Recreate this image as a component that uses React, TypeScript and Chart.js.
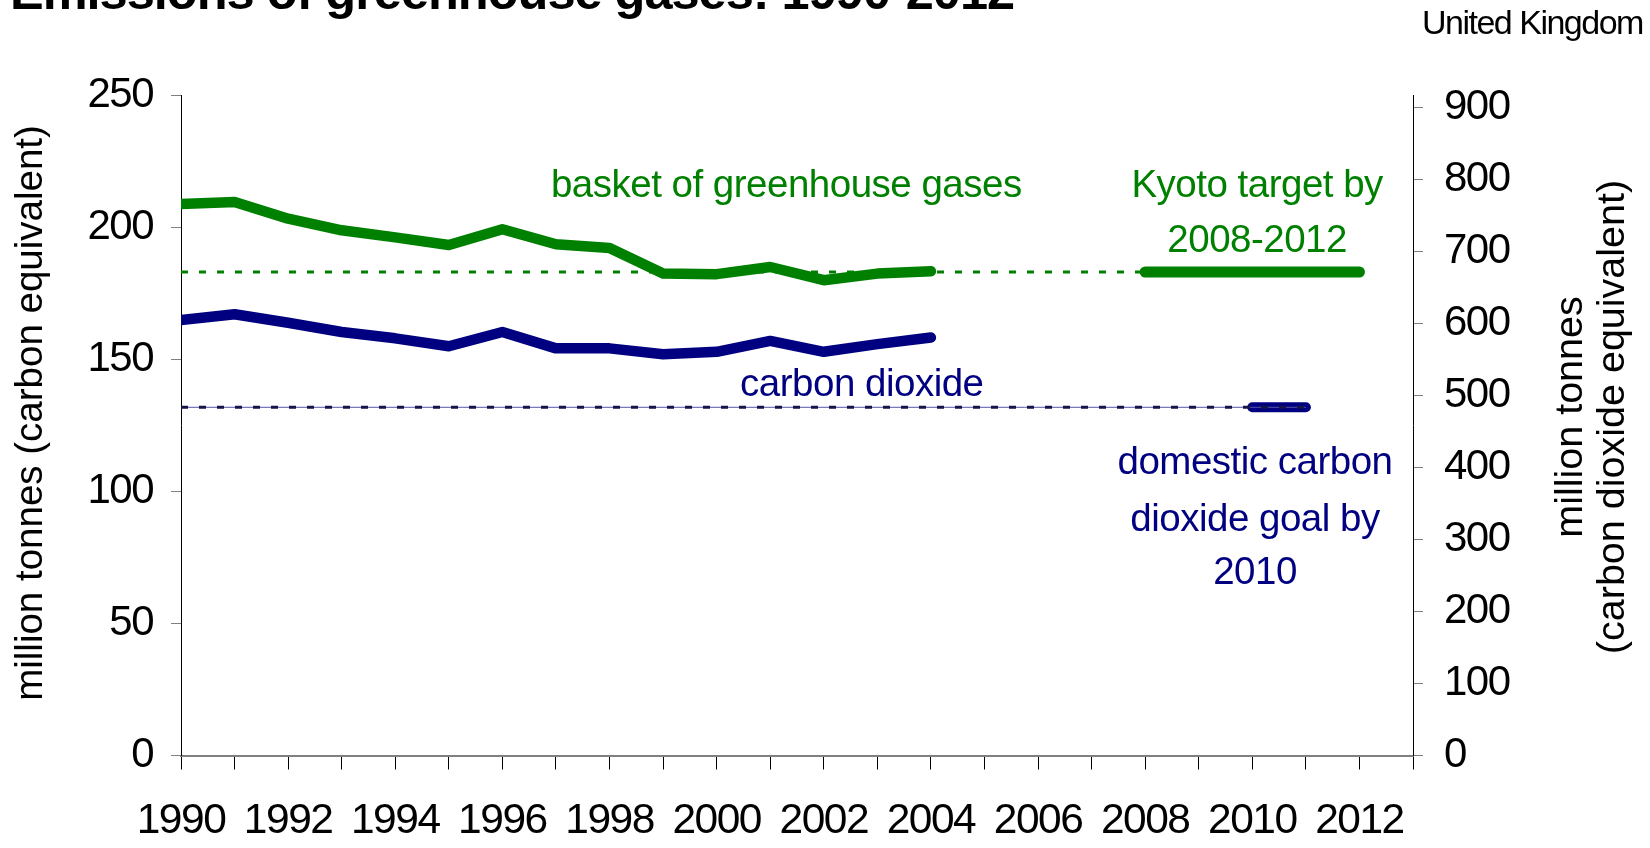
import React, { useEffect, useRef } from "react";
import { Chart, registerables } from "chart.js";

Chart.register(...registerables);

// ---- data ----
const years = [1990, 1991, 1992, 1993, 1994, 1995, 1996, 1997, 1998, 1999, 2000, 2001, 2002, 2003, 2004];
const basketOfGases = [208.7, 209.5, 203.2, 198.8, 196.1, 193.2, 199.2, 193.5, 192.1, 182.4, 182.2, 184.9, 179.9, 182.4, 183.3];
const carbonDioxide = [164.8, 167.0, 163.8, 160.3, 157.9, 154.9, 160.3, 154.1, 154.1, 151.9, 152.8, 156.9, 152.8, 155.7, 158.2];
const baseYear = 1990;
const kyotoTarget = 183;
const kyotoPeriod = [2008, 2012];
const co2Goal = 131.8;
const co2GoalPeriod = [2010, 2011];
const xAxisYears = [1990, 1991, 1992, 1993, 1994, 1995, 1996, 1997, 1998, 1999, 2000, 2001, 2002, 2003, 2004, 2005, 2006, 2007, 2008, 2009, 2010, 2011, 2012, 2013];
const xTickLabels = ["1990", "1992", "1994", "1996", "1998", "2000", "2002", "2004", "2006", "2008", "2010", "2012"];
const leftTicks = [0, 50, 100, 150, 200, 250];
const rightTicks = [0, 100, 200, 300, 400, 500, 600, 700, 800, 900];
const co2PerCarbon = 44 / 12;

const GREEN = "#008000";
const NAVY = "#000080";
const FONT = "'Liberation Sans', Arial, sans-serif";

const annotations = [
  { text: "basket of greenhouse gases", x: 2001.3, y: 211.4, color: GREEN },
  { text: "Kyoto target by", x: 2010.09, y: 211.4, color: GREEN },
  { text: "2008-2012", x: 2010.09, y: 190.5, color: GREEN },
  { text: "carbon dioxide", x: 2002.71, y: 136.0, color: NAVY },
  { text: "domestic carbon", x: 2010.05, y: 106.7, color: NAVY },
  { text: "dioxide goal by", x: 2010.05, y: 84.9, color: NAVY },
  { text: "2010", x: 2010.05, y: 64.9, color: NAVY },
];

const titleText = "Emissions of greenhouse gases: 1990-2012";
const countryText = "United Kingdom";
const leftAxisTitle = "million tonnes (carbon equivalent)";
const rightAxisTitle = ["million tonnes", "(carbon dioxide equivalent)"];

const pts = (xs: number[], ys: number[]) => xs.map((x, i) => ({ x, y: ys[i] }));
const flat = (x0: number, x1: number, y: number) => [{ x: x0, y }, { x: x1, y }];

const annotPlugin = {
  id: "annot",
  beforeDraw(chart: any) {
    chart.ctx.letterSpacing = "-1.5px";
  },
  afterDraw(chart: any) {
    const ctx = chart.ctx;
    const xs = chart.scales.x;
    const ys = chart.scales.y;
    ctx.save();
    // annotations
    ctx.letterSpacing = "-0.5px";
    ctx.font = `38.5px ${FONT}`;
    ctx.textAlign = "center";
    ctx.textBaseline = "alphabetic";
    for (const a of annotations) {
      ctx.fillStyle = a.color;
      ctx.fillText(a.text, xs.getPixelForValue(a.x), ys.getPixelForValue(a.y));
    }
    // title (clipped at top)
    ctx.fillStyle = "#000";
    ctx.textAlign = "left";
    ctx.letterSpacing = "-1px";
    ctx.font = `bold 50.5px ${FONT}`;
    ctx.fillText(titleText, 10, 9);
    ctx.font = `34px ${FONT}`;
    ctx.letterSpacing = "-1.5px";
    ctx.fillText(countryText, 1422, 34);
    // axis titles
    ctx.letterSpacing = "0px";
    ctx.font = `38.5px ${FONT}`;
    ctx.textAlign = "center";
    ctx.textBaseline = "middle";
    ctx.save();
    ctx.translate(31, 413);
    ctx.rotate(-Math.PI / 2);
    ctx.fillText(leftAxisTitle, 0, 0);
    ctx.restore();
    ctx.save();
    ctx.translate(1592, 417);
    ctx.rotate(-Math.PI / 2);
    ctx.font = `39.5px ${FONT}`;
    ctx.fillText(rightAxisTitle[0], 0, -21);
    ctx.fillText(rightAxisTitle[1], 0, 21);
    ctx.restore();
    ctx.restore();
  },
};

export default function App() {
  const ref = useRef<HTMLCanvasElement | null>(null);
  useEffect(() => {
    if (!ref.current) return;
    const lineBase = { pointRadius: 0, tension: 0, borderCapStyle: "round", borderJoinStyle: "round", fill: false };
    const chart = new Chart(ref.current, {
      type: "line",
      data: {
        datasets: [
          { ...lineBase, data: pts(years, basketOfGases), borderColor: GREEN, borderWidth: 10.5, order: 1 },
          { ...lineBase, data: pts(years, carbonDioxide), borderColor: NAVY, borderWidth: 10.5, order: 1 },
          { ...lineBase, data: flat(kyotoPeriod[0], kyotoPeriod[1], kyotoTarget), borderColor: GREEN, borderWidth: 11, order: 2 },
          { ...lineBase, data: flat(baseYear, kyotoPeriod[0], kyotoTarget), borderColor: GREEN, borderWidth: 3, borderCapStyle: "butt", borderDash: [7, 11], order: 3 },
          { ...lineBase, data: flat(co2GoalPeriod[0], co2GoalPeriod[1], co2Goal), borderColor: NAVY, borderWidth: 10, order: 4 },
          { ...lineBase, data: flat(baseYear, co2GoalPeriod[1], co2Goal), borderColor: "#5555aa", borderWidth: 1, borderCapStyle: "butt", order: 3 },
          { ...lineBase, data: flat(baseYear, co2GoalPeriod[1], co2Goal), borderColor: "#15154a", borderWidth: 3, borderCapStyle: "butt", borderDash: [7, 11], order: 2 },
        ],
      },
      options: {
        responsive: false,
        animation: false,
        events: [],
        layout: { padding: { top: 95, left: 0, right: 0, bottom: 0 } },
        plugins: { legend: { display: false }, tooltip: { enabled: false }, title: { display: false } },
        scales: {
          x: {
            type: "linear",
            min: xAxisYears[0],
            max: xAxisYears[xAxisYears.length - 1],
            afterBuildTicks: (s: any) => { s.ticks = xAxisYears.map((v) => ({ value: v })); },
            afterFit: (s: any) => { s.height = 92.5; },
            border: { color: "#808080", width: 2 },
            grid: { drawOnChartArea: false, tickLength: 14, color: "#000", tickWidth: 1 },
            ticks: {
              autoSkip: false,
              maxRotation: 0,
              padding: 26,
              color: "#000",
              font: { family: FONT, size: 42.5 },
              callback: (v: any) => (xTickLabels.includes(String(v)) ? String(v) : ""),
            },
          },
          y: {
            position: "left",
            min: 0,
            max: 250,
            afterBuildTicks: (s: any) => { s.ticks = leftTicks.map((v) => ({ value: v })); },
            afterFit: (s: any) => { s.width = 181; },
            border: { color: "#000", width: 1 },
            grid: { drawOnChartArea: false, tickLength: 10, color: "#808080" },
            ticks: { padding: 18, color: "#000", font: { family: FONT, size: 42 } },
          },
          y1: {
            position: "right",
            min: 0,
            max: 250 * co2PerCarbon,
            afterBuildTicks: (s: any) => { s.ticks = rightTicks.map((v) => ({ value: v })); },
            afterFit: (s: any) => { s.width = 237; },
            border: { color: "#000", width: 1 },
            grid: { drawOnChartArea: false, tickLength: 10, color: "#808080" },
            ticks: { padding: 21, color: "#000", font: { family: FONT, size: 42 } },
          },
        },
      } as any,
      plugins: [annotPlugin],
    } as any);
    return () => chart.destroy();
  }, []);
  return (
    <div style={{ position: "fixed", left: 0, top: 0, width: 1650, height: 848, background: "#fff" }}>
      <canvas ref={ref} width={1650} height={848} style={{ display: "block" }} />
    </div>
  );
}
